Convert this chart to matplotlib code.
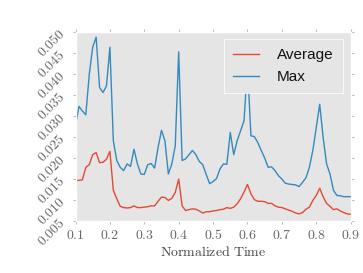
import numpy as np
import matplotlib
matplotlib.use('Agg')
from matplotlib import pyplot as plt
from matplotlib.ticker import FuncFormatter, MultipleLocator

# normalized time grid, 0.10 .. 0.90 in steps of 0.01
t = np.round(np.linspace(0.1, 0.9, 81), 2)

avg = [0.0145, 0.0146, 0.0147, 0.0177, 0.0183, 0.0207, 0.0212, 0.0188, 0.0189, 0.0196,
       0.0215, 0.0122, 0.0102, 0.0084, 0.0081, 0.0080, 0.0081, 0.0085, 0.0081, 0.0081,
       0.0082, 0.0083, 0.0085, 0.0085, 0.0096, 0.0106, 0.0105, 0.0098, 0.0103, 0.0117,
       0.0149, 0.0085, 0.0074, 0.0076, 0.0078, 0.0077, 0.0073, 0.0068, 0.0071, 0.0071,
       0.0073, 0.0074, 0.0076, 0.0077, 0.0081, 0.0079, 0.0082, 0.0090, 0.0102, 0.0118,
       0.0136, 0.0114, 0.0100, 0.0096, 0.0096, 0.0095, 0.0091, 0.0091, 0.0085, 0.0082,
       0.0081, 0.0078, 0.0075, 0.0072, 0.0068, 0.0066, 0.0069, 0.0077, 0.0082, 0.0098,
       0.0110, 0.0127, 0.0107, 0.0091, 0.0084, 0.0076, 0.0078, 0.0073, 0.0069, 0.0066,
       0.0065]

mx = [0.0276, 0.0322, 0.0311, 0.0302, 0.0398, 0.0463, 0.0487, 0.0367, 0.0355, 0.0371,
      0.0463, 0.0240, 0.0193, 0.0177, 0.0169, 0.0185, 0.0179, 0.0220, 0.0185, 0.0161,
      0.0160, 0.0183, 0.0186, 0.0175, 0.0224, 0.0265, 0.0240, 0.0161, 0.0185, 0.0228,
      0.0452, 0.0193, 0.0197, 0.0207, 0.0217, 0.0207, 0.0191, 0.0183, 0.0160, 0.0138,
      0.0143, 0.0150, 0.0173, 0.0185, 0.0184, 0.0260, 0.0207, 0.0240, 0.0264, 0.0288,
      0.0420, 0.0252, 0.0250, 0.0236, 0.0217, 0.0199, 0.0177, 0.0178, 0.0169, 0.0157,
      0.0149, 0.0139, 0.0137, 0.0136, 0.0135, 0.0131, 0.0141, 0.0152, 0.0177, 0.0217,
      0.0272, 0.0327, 0.0248, 0.0185, 0.0161, 0.0122, 0.0110, 0.0109, 0.0107, 0.0107,
      0.0107]

plt.style.use('ggplot')
plt.rcParams['mathtext.fontset'] = 'cm'
plt.rcParams['axes.grid'] = False

fig = plt.figure(figsize=(3.63, 2.73), dpi=100)
ax = fig.add_axes([0.208, 0.192, 0.758, 0.692])

ax.plot(t, avg, color='#E24A33', lw=1.0, label='Average')
ax.plot(t, mx, color='#348ABD', lw=1.0, label='Max')

ax.set_xlim(0.1, 0.9)
ax.set_ylim(0.005, 0.05)
ax.xaxis.set_major_locator(MultipleLocator(0.1))
ax.yaxis.set_major_locator(MultipleLocator(0.005))
ax.xaxis.set_major_formatter(FuncFormatter(lambda v, p: f'${v:.1f}$'))
ax.yaxis.set_major_formatter(FuncFormatter(lambda v, p: f'${v:.3f}$'))

ax.tick_params(axis='both', which='major', direction='out', length=2.5,
               color='#bbbbbb', labelcolor='#666666', labelsize=10,
               top=True, right=True, pad=3)
for lab in ax.get_yticklabels():
    lab.set_rotation(45)

for s in ax.spines.values():
    s.set_color('white')

ax.set_xlabel(r'$\mathrm{Normalized\ Time}$', fontsize=10, color='#444444', labelpad=2)

leg = ax.legend(loc='upper right', prop={'family': 'Liberation Sans', 'size': 11},
                handlelength=1.7, handletextpad=1.2, borderpad=0.6, labelspacing=0.5,
                fancybox=False, framealpha=1.0)
leg.get_frame().set_facecolor('#E5E5E5')
leg.get_frame().set_edgecolor('white')
for txt in leg.get_texts():
    txt.set_color('#111111')

fig.savefig('out.png', dpi=100)
